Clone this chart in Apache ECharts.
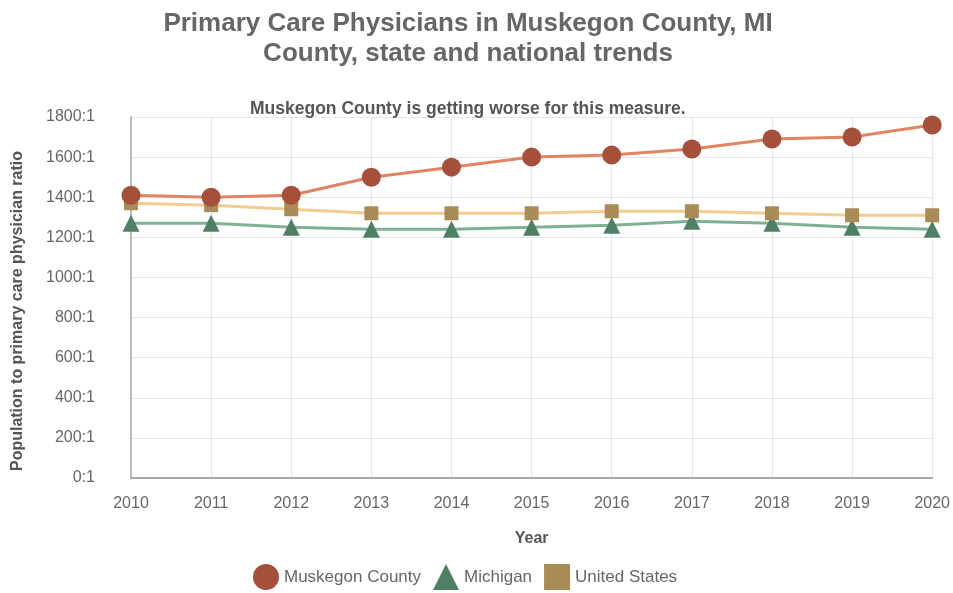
<!DOCTYPE html>
<html>
<head>
<meta charset="utf-8">
<script src="https://cdn.jsdelivr.net/npm/echarts@6/dist/echarts.min.js"></script>
<style>html,body{margin:0;padding:0;background:#fff}#c{width:953px;height:593px}</style>
</head>
<body>
<div id="c"></div>
<script>
var years = ['2010','2011','2012','2013','2014','2015','2016','2017','2018','2019','2020'];
var muskegon = [1410,1400,1410,1500,1550,1600,1610,1640,1690,1700,1760];
var michigan = [1270,1270,1250,1240,1240,1250,1260,1280,1270,1250,1240];
var unitedStates = [1370,1360,1340,1320,1320,1320,1330,1330,1320,1310,1310];

var font = 'Arial, "Liberation Sans", sans-serif';
var chart = echarts.init(document.getElementById('c'));
chart.setOption({
  animation: false,
  textStyle: {fontFamily: font},
  title: [
    {text: 'Primary Care Physicians in Muskegon County, MI\nCounty, state and national trends', left: 463, top: 4,
     textAlign: 'center',
     textStyle: {fontFamily: font, fontSize: 26, fontWeight: 'bold', color: '#666', lineHeight: 30}},
    {text: 'Muskegon County is getting worse for this measure.', left: 245, top: 95,
     textStyle: {fontFamily: font, fontSize: 17.5, fontWeight: 'bold', color: '#555'}}
  ],
  graphic: [{
    type: 'text', x: 18, y: 311, rotation: Math.PI / 2,
    style: {text: 'Population to primary care physician ratio', align: 'center', verticalAlign: 'middle',
      font: 'bold 16px Arial, "Liberation Sans", sans-serif', fill: '#555'}
  }],
  legend: {
    top: 559, left: 248, itemWidth: 26, itemHeight: 26, itemGap: 12,
    textStyle: {fontFamily: font, fontSize: 17, color: '#666'},
    data: [
      {name: 'Muskegon County', icon: 'circle'},
      {name: 'Michigan', icon: 'triangle'},
      {name: 'United States', icon: 'path://M3,3 L23,3 L23,23 L3,23 Z'}
    ]
  },
  grid: {left: 131, right: 20, top: 117, bottom: 115},
  xAxis: {
    type: 'category', data: years, boundaryGap: false,
    name: 'Year', nameLocation: 'middle', nameGap: 53,
    nameTextStyle: {fontFamily: font, fontSize: 16, fontWeight: 'bold', color: '#555'},
    axisLine: {lineStyle: {color: '#aaa', width: 2}},
    axisTick: {show: false},
    axisLabel: {color: '#666', fontSize: 16, margin: 18},
    splitLine: {show: true, lineStyle: {color: '#e6e6e6'}}
  },
  yAxis: {
    type: 'value', min: 0, max: 1800, interval: 200,
    axisLine: {show: true, lineStyle: {color: '#bbb', width: 2}},
    axisTick: {show: false},
    axisLabel: {color: '#666', fontSize: 16, formatter: function (v) { return v + ':1'; }, margin: 36},
    splitLine: {lineStyle: {color: '#e6e6e6'}}
  },
  series: [
    {name: 'Muskegon County', type: 'line', data: muskegon, symbol: 'circle', symbolSize: 19,
     lineStyle: {color: '#e08462', width: 3}, itemStyle: {color: '#a5503a'}, z: 4},
    {name: 'Michigan', type: 'line', data: michigan, symbol: 'triangle', symbolSize: 17,
     lineStyle: {color: '#7fb292', width: 3}, itemStyle: {color: '#4f8066'}, z: 2},
    {name: 'United States', type: 'line', data: unitedStates, symbol: 'rect', symbolSize: 14,
     lineStyle: {color: '#f2cc8f', width: 3}, itemStyle: {color: '#a98b58'}, z: 3}
  ]
});
</script>
</body>
</html>
